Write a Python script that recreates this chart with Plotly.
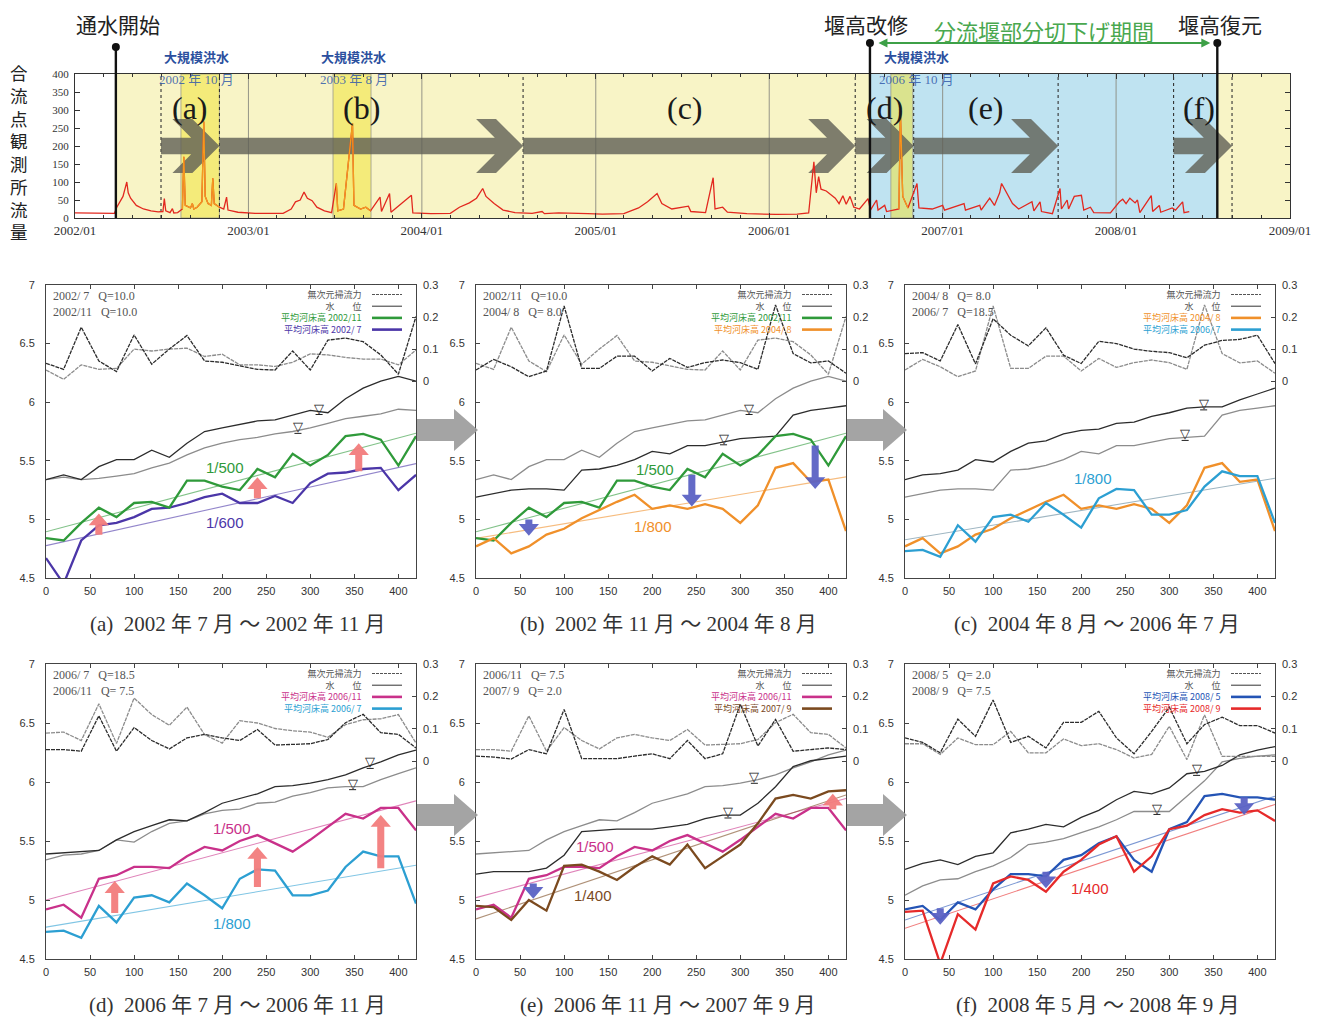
import numpy as np
import pandas as pd
import plotly.graph_objects as go

W, H = 1325, 1021
OFF = 8  # page body offset of the figure


def PX(x):
    return (x - OFF) / W


def PY(y):
    return 1 - (y - OFF) / H


# ------------------------------------------------------------------ top chart data
FLOW_DATES = [
    "2002-01-01", "2002-02-01", "2002-03-01", "2002-03-25", "2002-03-30", "2002-04-05", "2002-04-12",
    "2002-04-17", "2002-04-20", "2002-04-23", "2002-04-28", "2002-05-10", "2002-05-25", "2002-06-10",
    "2002-06-25", "2002-07-05", "2002-07-08", "2002-07-11", "2002-07-20", "2002-07-25", "2002-07-28",
    "2002-08-05", "2002-08-15", "2002-08-18", "2002-08-21", "2002-09-01", "2002-09-05", "2002-09-08",
    "2002-09-15", "2002-09-25", "2002-09-29", "2002-10-02", "2002-10-08", "2002-10-15", "2002-10-18",
    "2002-10-21", "2002-11-01", "2002-11-10", "2002-11-16", "2002-11-19", "2002-12-10",
    "2003-01-15", "2003-02-15", "2003-03-15", "2003-04-01", "2003-04-10", "2003-04-20", "2003-04-28",
    "2003-05-05", "2003-05-15", "2003-05-25", "2003-06-10", "2003-06-25", "2003-07-05", "2003-07-08",
    "2003-07-20", "2003-08-08", "2003-08-11", "2003-08-25", "2003-09-05", "2003-09-15", "2003-10-05",
    "2003-10-08", "2003-10-25", "2003-10-28", "2003-12-10", "2003-12-13",
    "2004-01-20", "2004-03-01", "2004-03-20", "2004-04-10", "2004-04-25", "2004-05-08", "2004-05-15",
    "2004-06-01", "2004-06-20", "2004-07-15", "2004-08-20", "2004-09-10", "2004-09-15", "2004-10-15",
    "2004-11-15", "2004-12-15",
    "2005-01-15", "2005-03-01", "2005-04-01", "2005-04-20", "2005-05-10", "2005-05-20", "2005-06-10",
    "2005-07-15", "2005-07-20", "2005-08-20", "2005-09-05", "2005-09-09", "2005-09-25", "2005-10-05",
    "2005-11-15",
    "2006-01-15", "2006-03-01", "2006-03-25", "2006-04-05", "2006-04-10", "2006-04-15", "2006-04-20",
    "2006-05-01", "2006-05-10", "2006-05-20", "2006-05-28", "2006-06-05", "2006-06-12", "2006-06-20",
    "2006-06-28", "2006-07-10", "2006-07-28", "2006-08-02", "2006-08-15", "2006-08-18", "2006-09-01",
    "2006-09-05", "2006-10-01", "2006-10-04", "2006-10-09", "2006-10-20", "2006-11-08", "2006-11-12",
    "2006-12-10",
    "2007-01-01", "2007-01-05", "2007-02-15", "2007-02-18", "2007-03-20", "2007-03-23", "2007-04-10",
    "2007-04-20", "2007-05-01", "2007-05-05", "2007-05-12", "2007-05-20", "2007-05-28", "2007-06-10",
    "2007-07-08", "2007-07-12", "2007-07-25", "2007-07-28", "2007-08-20", "2007-09-05", "2007-09-08",
    "2007-09-20", "2007-09-23", "2007-10-05", "2007-10-20", "2007-10-25", "2007-11-08", "2007-11-15",
    "2007-12-20",
    "2008-01-08", "2008-01-15", "2008-01-22", "2008-01-30", "2008-02-10", "2008-02-15", "2008-02-20",
    "2008-03-15", "2008-03-18", "2008-04-01", "2008-04-04", "2008-04-28", "2008-05-05", "2008-05-20",
    "2008-05-23", "2008-06-03",
]
FLOW_VALUES = [
    14, 13, 12, 13, 30, 45, 60, 85, 100, 70, 55, 35, 25, 20,
    17, 18, 54, 20, 15, 26, 14,
    15, 25, 170, 35, 28, 40, 25,
    30, 45, 268, 60, 40, 35, 110,
    40, 30, 25, 58, 22, 16,
    13, 12, 13, 25, 45, 50, 72,
    55, 48, 30, 20, 15, 96, 20,
    25, 263, 35, 25, 30, 20, 58,
    18, 68, 16, 63, 14,
    12, 13, 30, 42, 55, 82, 60,
    40, 22, 15, 13, 18, 12, 14,
    12, 12,
    11, 12, 28, 45, 68, 40, 25,
    33, 18, 15, 112, 25, 30, 16,
    12,
    10, 11, 14, 156, 70, 115, 80,
    75, 65, 55, 40, 62, 38, 60,
    30, 25, 54, 22, 50, 22, 35,
    18, 25, 300, 60, 28, 96, 28,
    25,
    35, 22, 40, 22, 35, 22, 55,
    35, 70, 96, 80, 60, 40, 25,
    45, 20, 45, 18, 12, 82, 25,
    50, 25, 60, 63, 22, 30, 15,
    14,
    45, 52, 40, 55, 42, 50, 15,
    62, 18, 35, 16, 28, 22, 45,
    15, 18,
]

AXIS_START, AXIS_END = "2002-01-01", "2009-01-01"
YEAR_LINES = ["2003-01-01", "2004-01-01", "2005-01-01", "2006-01-01", "2007-01-01", "2008-01-01"]
PERIOD_LINES = ["2002-07-01", "2002-11-01", "2004-08-01", "2006-07-01", "2006-11-01",
                "2007-09-01", "2008-05-01", "2008-09-01"]
ARROW_STARTS = ["2002-07-01", "2002-11-01", "2004-08-01", "2006-07-01", "2006-11-01", "2008-05-01"]
ARROW_ENDS = ["2002-11-01", "2004-08-01", "2006-07-01", "2006-11-01", "2007-09-01", "2008-09-01"]
PERIOD_LABELS = ["(a)", "(b)", "(c)", "(d)", "(e)", "(f)"]
PERIOD_LABEL_DATES = ["2002-08-30", "2003-08-26", "2005-07-08", "2006-08-31", "2007-04-03", "2008-06-24"]
FLOOD_STARTS = ["2002-08-12", "2003-06-28", "2006-09-14"]
FLOOD_ENDS = ["2002-11-01", "2003-09-16", "2006-10-30"]
FLOOD_LABEL_DATES = ["2002-09-14", "2003-08-11", "2006-11-06"]
FLOOD_LABELS = ["2002 年 10 月", "2003 年 8 月", "2006 年 10 月"]
EVENT_DATES = ["2002-03-28", "2006-08-01", "2008-08-01"]
EVENT_LABELS = ["通水開始", "堰高改修", "堰高復元"]
PERIOD_TEXT = "分流堰部分切下げ期間"
Y_TITLE = "合流点観測所流量"

# ------------------------------------------------------------------ profile data
DIST = [0, 20, 40, 60, 80, 100, 120, 140, 160, 180, 200, 220, 240, 260, 280, 300, 320, 340, 360, 380, 400, 420]

BED_2002_07 = [4.67, 4.45, 4.82, 4.95, 4.97, 5.02, 5.09, 5.10, 5.14, 5.19, 5.22, 5.14, 5.14, 5.20, 5.14, 5.31, 5.39, 5.40, 5.43, 5.44, 5.25, 5.38]
BED_2002_11 = [4.84, 4.82, 4.97, 5.10, 5.02, 5.14, 5.15, 5.10, 5.33, 5.33, 5.28, 5.25, 5.43, 5.36, 5.56, 5.46, 5.55, 5.71, 5.73, 5.68, 5.46, 5.71]
BED_2004_08 = [4.77, 4.84, 4.71, 4.77, 4.87, 4.92, 5.01, 5.08, 5.15, 5.21, 5.09, 5.12, 5.09, 5.13, 5.09, 4.97, 5.12, 5.44, 5.48, 5.32, 5.34, 4.90]
BED_2006_07 = [4.73, 4.74, 4.68, 4.95, 4.81, 5.02, 5.04, 4.98, 5.14, 5.04, 4.93, 5.18, 5.26, 5.25, 5.04, 5.04, 5.08, 5.28, 5.41, 5.37, 5.37, 4.97]
BED_2006_11 = [4.92, 4.96, 4.85, 5.18, 5.21, 5.28, 5.28, 5.27, 5.37, 5.45, 5.42, 5.50, 5.55, 5.48, 5.41, 5.51, 5.62, 5.73, 5.69, 5.78, 5.78, 5.59]
BED_2007_09 = [4.95, 4.94, 4.83, 5.00, 4.91, 5.29, 5.30, 5.24, 5.17, 5.28, 5.37, 5.30, 5.47, 5.27, 5.37, 5.47, 5.65, 5.86, 5.89, 5.86, 5.92, 5.93]
BED_2008_05 = [4.92, 4.95, 4.83, 4.98, 4.92, 5.09, 5.22, 5.22, 5.20, 5.34, 5.38, 5.48, 5.54, 5.34, 5.24, 5.60, 5.66, 5.88, 5.90, 5.87, 5.87, 5.85]
BED_2008_09 = [4.90, 4.91, 4.46, 4.88, 4.75, 5.14, 5.20, 5.17, 5.07, 5.24, 5.34, 5.47, 5.54, 5.24, 5.37, 5.60, 5.63, 5.72, 5.77, 5.74, 5.76, 5.67]

WL_2002_07 = [5.34, 5.36, 5.34, 5.35, 5.37, 5.39, 5.44, 5.48, 5.55, 5.61, 5.65, 5.68, 5.70, 5.73, 5.75, 5.78, 5.82, 5.86, 5.88, 5.90, 5.94, 5.93]
WL_2002_11 = [5.34, 5.38, 5.34, 5.45, 5.51, 5.51, 5.59, 5.53, 5.65, 5.75, 5.78, 5.81, 5.84, 5.85, 5.89, 5.93, 5.91, 6.03, 6.12, 6.18, 6.22, 6.18]
WL_2004_08 = [5.19, 5.22, 5.25, 5.26, 5.26, 5.25, 5.42, 5.43, 5.46, 5.51, 5.58, 5.56, 5.63, 5.63, 5.66, 5.69, 5.70, 5.71, 5.89, 5.93, 5.95, 5.97]
WL_2006_07 = [5.34, 5.38, 5.39, 5.42, 5.51, 5.49, 5.58, 5.65, 5.67, 5.73, 5.76, 5.77, 5.82, 5.83, 5.88, 5.91, 5.95, 5.96, 5.96, 6.02, 6.07, 6.12]
WL_2006_11 = [5.39, 5.40, 5.41, 5.42, 5.51, 5.58, 5.63, 5.68, 5.67, 5.74, 5.82, 5.86, 5.90, 5.96, 5.97, 5.99, 6.02, 6.06, 6.12, 6.17, 6.23, 6.27]
WL_2007_09 = [5.22, 5.24, 5.24, 5.24, 5.27, 5.38, 5.58, 5.59, 5.60, 5.60, 5.60, 5.62, 5.64, 5.69, 5.72, 5.72, 5.82, 5.96, 6.13, 6.18, 6.20, 6.22]
WL_2008_05 = [5.04, 5.12, 5.17, 5.18, 5.24, 5.29, 5.36, 5.47, 5.49, 5.52, 5.57, 5.62, 5.68, 5.75, 5.75, 5.75, 5.88, 6.01, 6.17, 6.20, 6.22, 6.23]
WL_2008_09 = [5.26, 5.31, 5.34, 5.30, 5.37, 5.40, 5.57, 5.60, 5.64, 5.62, 5.70, 5.76, 5.85, 5.92, 5.90, 5.95, 6.07, 6.09, 6.14, 6.23, 6.27, 6.30]

TF_2002_07 = [0.036, 0.007, 0.052, 0.038, 0.041, 0.101, 0.095, 0.101, 0.104, 0.078, 0.085, 0.052, 0.052, 0.047, 0.060, 0.086, 0.083, 0.075, 0.070, 0.070, 0.052, 0.098]
TF_2002_11 = [0.057, 0.038, 0.169, 0.064, 0.031, 0.145, 0.054, 0.101, 0.143, 0.064, 0.060, 0.050, 0.038, 0.036, 0.095, 0.036, 0.129, 0.135, 0.124, 0.083, 0.023, 0.202]
TF_2004_08 = [0.036, 0.069, 0.046, 0.015, 0.033, 0.235, 0.041, 0.041, 0.079, 0.079, 0.033, 0.072, 0.044, 0.059, 0.067, 0.059, 0.038, 0.238, 0.087, 0.058, 0.064, 0.026]
TF_2006_07 = [0.087, 0.090, 0.064, 0.177, 0.055, 0.195, 0.144, 0.111, 0.167, 0.082, 0.056, 0.125, 0.118, 0.101, 0.094, 0.090, 0.074, 0.113, 0.128, 0.131, 0.144, 0.056]
TF_2006_11 = [0.036, 0.036, 0.031, 0.140, 0.031, 0.104, 0.064, 0.038, 0.072, 0.083, 0.072, 0.064, 0.098, 0.050, 0.052, 0.054, 0.067, 0.119, 0.145, 0.088, 0.083, 0.041]
TF_2007_09 = [0.016, 0.013, 0.007, 0.036, 0.023, 0.160, 0.008, 0.008, 0.008, 0.016, 0.023, 0.008, 0.064, 0.008, 0.023, 0.176, 0.047, 0.129, 0.031, 0.036, 0.041, 0.036]
TF_2008_05 = [0.054, 0.054, 0.021, 0.072, 0.051, 0.051, 0.092, 0.026, 0.026, 0.069, 0.048, 0.054, 0.036, 0.010, 0.021, 0.108, 0.005, 0.143, 0.015, 0.015, 0.015, 0.015]
TF_2008_09 = [0.072, 0.058, 0.026, 0.130, 0.077, 0.189, 0.058, 0.077, 0.041, 0.120, 0.120, 0.154, 0.072, 0.023, 0.092, 0.167, 0.054, 0.113, 0.136, 0.110, 0.110, 0.087]

SURVEY_IDS = ["2002_07", "2002_11", "2004_08", "2006_07", "2006_11", "2007_09", "2008_05", "2008_09"]
SURVEY_LABELS = ["2002/ 7", "2002/11", "2004/ 8", "2006/ 7", "2006/11", "2007/ 9", "2008/ 5", "2008/ 9"]
SURVEY_Q = [10.0, 10.0, 8.0, 18.5, 7.5, 2.0, 2.0, 7.5]
SURVEY_COLORS = ["#4b36a8", "#2f9a3a", "#f0902a", "#2c9fd2", "#c9318a", "#7b4a1f", "#2454b5", "#e62a2a"]

X_TICKS = [0, 50, 100, 150, 200, 250, 300, 350, 400]
TF_TICKS = [0, 0.1, 0.2, 0.3]

# arrows inside panels: (distance, from, to)
ARROWS_A = [(60, 4.87, 5.05), (240, 5.18, 5.36), (355, 5.41, 5.65)]
ARROWS_B = [(60, 5.00, 4.86), (245, 5.38, 5.11), (385, 5.63, 5.26)]
ARROWS_D = [(78, 4.89, 5.16), (240, 5.11, 5.45), (380, 5.27, 5.72)]
ARROWS_E_DOWN = [(65, 5.14, 5.01)]
ARROWS_E_UP = [(405, 5.79, 5.90)]
ARROWS_F = [(40, 4.93, 4.79), (160, 5.24, 5.10), (385, 5.87, 5.72)]

CAPTIONS = ["(a)  2002 年 7 月 ～ 2002 年 11 月", "(b)  2002 年 11 月 ～ 2004 年 8 月",
            "(c)  2004 年 8 月 ～ 2006 年 7 月", "(d)  2006 年 7 月 ～ 2006 年 11 月",
            "(e)  2006 年 11 月 ～ 2007 年 9 月", "(f)  2008 年 5 月 ～ 2008 年 9 月"]

BED = dict(zip(SURVEY_IDS, [BED_2002_07, BED_2002_11, BED_2004_08, BED_2006_07, BED_2006_11, BED_2007_09, BED_2008_05, BED_2008_09]))
WL = dict(zip(SURVEY_IDS, [WL_2002_07, WL_2002_11, WL_2004_08, WL_2006_07, WL_2006_11, WL_2007_09, WL_2008_05, WL_2008_09]))
TF = dict(zip(SURVEY_IDS, [TF_2002_07, TF_2002_11, TF_2004_08, TF_2006_07, TF_2006_11, TF_2007_09, TF_2008_05, TF_2008_09]))
LAB = dict(zip(SURVEY_IDS, SURVEY_LABELS))
QV = dict(zip(SURVEY_IDS, SURVEY_Q))
COL = dict(zip(SURVEY_IDS, SURVEY_COLORS))

PINK = "#f27c7c"
BLUE_ARROW = "#5b62c4"

PANEL_SPECS = [
    dict(pair=("2002_07", "2002_11"), legend=("2002_11", "2002_07"),
         trends=[("2002_11", 4.895, 500, None), ("2002_07", 4.776, 600, None)],
         tlabels=[("1/500", 203, 5.44, "2002_11"), ("1/600", 203, 4.975, "2002_07")],
         arrows=[(ARROWS_A, PINK)], nabla=[("2002_11", 310), ("2002_07", 286)]),
    dict(pair=("2002_11", "2004_08"), legend=("2002_11", "2004_08"),
         trends=[("2002_11", 4.895, 500, None), ("2004_08", 4.838, 800, None)],
         tlabels=[("1/500", 203, 5.43, "2002_11"), ("1/800", 201, 4.94, "2004_08")],
         arrows=[(ARROWS_B, BLUE_ARROW)], nabla=[("2002_11", 310), ("2004_08", 281)]),
    dict(pair=("2004_08", "2006_07"), legend=("2004_08", "2006_07"),
         trends=[("2006_07", 4.826, 800, "#9fb6c2")],
         tlabels=[("1/800", 213, 5.345, "2006_07")],
         arrows=[], nabla=[("2006_07", 339), ("2004_08", 318)]),
    dict(pair=("2006_07", "2006_11"), legend=("2006_11", "2006_07"),
         trends=[("2006_11", 5.00, 500, None), ("2006_07", 4.77, 800, None)],
         tlabels=[("1/500", 211, 5.61, "2006_11"), ("1/800", 211, 4.80, "2006_07")],
         arrows=[(ARROWS_D, PINK)], nabla=[("2006_11", 368), ("2006_07", 348)]),
    dict(pair=("2006_11", "2007_09"), legend=("2006_11", "2007_09"),
         trends=[("2006_11", 5.02, 500, None), ("2007_09", 4.84, 400, None)],
         tlabels=[("1/500", 135, 5.45, "2006_11"), ("1/400", 133, 5.04, "2007_09")],
         arrows=[(ARROWS_E_DOWN, BLUE_ARROW), (ARROWS_E_UP, PINK)], nabla=[("2006_11", 316), ("2007_09", 286)]),
    dict(pair=("2008_05", "2008_09"), legend=("2008_05", "2008_09"),
         trends=[("2008_05", 4.83, 400, None), ("2008_09", 4.76, 400, None)],
         tlabels=[("1/400", 210, 5.10, "2008_09")],
         arrows=[(ARROWS_F, BLUE_ARROW)], nabla=[("2008_09", 331), ("2008_05", 286)]),
]

PANEL_X = [(46, 416), (476, 846), (905, 1275)]
PANEL_Y = [(285, 578), (664, 959)]
CAPTION_X = [238, 668, 1097]
CAPTION_Y = [624, 1005]

TOP_X = (75, 1290)
TOP_Y = (74, 218)

SERIF = "Liberation Serif"
JP = "Noto Sans CJK JP"
SANS = "Liberation Sans"


def rgba(hexc, a):
    h = hexc.lstrip("#")
    return "rgba(%d,%d,%d,%.2f)" % (int(h[0:2], 16), int(h[2:4], 16), int(h[4:6], 16), a)


def ann(**kw):
    kw.setdefault("xanchor", "center")
    kw.setdefault("yanchor", "middle")
    kw.setdefault("showarrow", False)
    kw.setdefault("borderpad", 0)
    return kw


fig = go.Figure()
shapes = []
annotations = []

T0, T1 = pd.Timestamp(AXIS_START), pd.Timestamp(AXIS_END)
PX_PER_DAY = (TOP_X[1] - TOP_X[0]) / (T1 - T0).days

# ---------------- top chart background
shapes.append(dict(type="rect", xref="x", yref="y", x0=EVENT_DATES[0], x1=EVENT_DATES[1], y0=0, y1=400,
                   fillcolor="#f8f4c6", line=dict(width=0), layer="below"))
shapes.append(dict(type="rect", xref="x", yref="y", x0=EVENT_DATES[1], x1=EVENT_DATES[2], y0=0, y1=400,
                   fillcolor="#bfe3f1", line=dict(width=0), layer="below"))
shapes.append(dict(type="rect", xref="x", yref="y", x0=EVENT_DATES[2], x1=AXIS_END, y0=0, y1=400,
                   fillcolor="#f8f4c6", line=dict(width=0), layer="below"))
for s, e in zip(FLOOD_STARTS, FLOOD_ENDS):
    shapes.append(dict(type="rect", xref="x", yref="y", x0=s, x1=e, y0=0, y1=400,
                       fillcolor="rgba(240,228,60,0.55)", line=dict(width=0.8, color="#9a9a8a"), layer="below"))
for d in YEAR_LINES:
    shapes.append(dict(type="line", xref="x", yref="y", x0=d, x1=d, y0=0, y1=400,
                       line=dict(width=0.9, color="#8a8a80"), layer="below"))
for d in PERIOD_LINES:
    shapes.append(dict(type="line", xref="x", yref="y", x0=d, x1=d, y0=0, y1=400,
                       line=dict(width=1.1, color="#333", dash="dot"), layer="below"))

# ---------------- gray chevron arrows (periods)
for s, e in zip(ARROW_STARTS, ARROW_ENDS):
    s = pd.Timestamp(s)
    e = pd.Timestamp(e)
    hd = pd.Timedelta(days=99)
    wd = pd.Timedelta(days=42)
    xi = e - hd + (hd - wd) * ((275 - 223) / 75)
    xs = [s, xi, e - hd, e - hd + wd, e, e - hd + wd, e - hd, xi, s, s]
    ys = [223, 223, 275, 275, 200, 125, 125, 177, 177, 223]
    fig.add_trace(go.Scatter(x=xs, y=ys, mode="lines", fill="toself", fillcolor="rgba(95,95,85,0.80)",
                             line=dict(width=0), hoverinfo="skip", xaxis="x", yaxis="y"))

# ---------------- flow series
fig.add_trace(go.Scatter(x=FLOW_DATES, y=FLOW_VALUES, mode="lines", line=dict(color="#e2281f", width=1.3),
                         hoverinfo="skip", xaxis="x", yaxis="y"))
fd = pd.to_datetime(FLOW_DATES)
for s, e in zip(FLOOD_STARTS, FLOOD_ENDS):
    mask = (fd >= pd.Timestamp(s)) & (fd <= pd.Timestamp(e))
    fig.add_trace(go.Scatter(x=[FLOW_DATES[i] for i in range(len(FLOW_DATES)) if mask[i]],
                             y=[FLOW_VALUES[i] for i in range(len(FLOW_VALUES)) if mask[i]],
                             mode="lines", line=dict(color="#f39a1e", width=1.3), hoverinfo="skip",
                             xaxis="x", yaxis="y"))

# ---------------- event lines and labels
event_top = [47, 43, 43]
event_shift = [2, -4, 3]
for d, lab, yt, sh in zip(EVENT_DATES, EVENT_LABELS, event_top, event_shift):
    shapes.append(dict(type="line", xref="x", yref="paper", x0=d, x1=d, y0=PY(TOP_Y[1]), y1=PY(yt),
                       line=dict(width=2.4, color="#111")))
    shapes.append(dict(type="circle", xref="x", yref="paper", xsizemode="pixel", ysizemode="pixel",
                       xanchor=d, yanchor=PY(yt), x0=-4, x1=4, y0=-4, y1=4,
                       fillcolor="#111", line=dict(width=0)))
    annotations.append(ann(x=d, y=PY(24), xref="x", yref="paper", text=lab,
                           xshift=sh, font=dict(family=JP, size=21, color="#222")))

span_px = (pd.Timestamp(EVENT_DATES[2]) - pd.Timestamp(EVENT_DATES[1])).days * PX_PER_DAY
annotations.append(dict(x=EVENT_DATES[2], y=PY(43), xref="x", yref="paper", text="", showarrow=True,
                        ax=-span_px, ay=0, axref="pixel", ayref="pixel", arrowside="end+start",
                        arrowhead=2, arrowsize=1, arrowwidth=1.8, arrowcolor="#3da047",
                        standoff=7, startstandoff=7))
mid = pd.Timestamp(EVENT_DATES[1]) + (pd.Timestamp(EVENT_DATES[2]) - pd.Timestamp(EVENT_DATES[1])) / 2
annotations.append(ann(x=mid, y=PY(30), xref="x", yref="paper", text=PERIOD_TEXT,
                       font=dict(family=JP, size=22, color="#4aa84f")))

for d, lab in zip(FLOOD_LABEL_DATES, FLOOD_LABELS):
    annotations.append(ann(x=d, y=PY(57), xref="x", yref="paper", text="<b>大規模洪水</b>",
                           font=dict(family=JP, size=13, color="#2b4f9e")))
    annotations.append(ann(x=d, y=PY(80), xref="x", yref="paper", text=lab,
                           font=dict(family=SERIF + ", " + JP, size=13, color="rgba(50,90,170,0.85)")))

for d, lab in zip(PERIOD_LABEL_DATES, PERIOD_LABELS):
    annotations.append(ann(x=d, y=PY(108), xref="x", yref="paper", text=lab,
                           font=dict(family=SERIF, size=32, color="#1a1a1a")))

# vertical (stacked) y-axis title of the top chart, one glyph per line
annotations.append(ann(x=PX(19), y=PY(72 + 3.5 * 22.75), xref="paper", yref="paper",
                       text="<br>".join(list(Y_TITLE)),
                       font=dict(family=JP, size=17.5, color="#222")))

layout = dict(
    width=W, height=H, margin=dict(l=0, r=0, t=0, b=0, autoexpand=False),
    paper_bgcolor="white", plot_bgcolor="white",
    showlegend=False, font=dict(family=SANS, size=11, color="#333"),
    xaxis=dict(domain=[PX(TOP_X[0]), PX(TOP_X[1])], anchor="y", type="date", range=[AXIS_START, AXIS_END],
               tickformat="%Y/%m", dtick="M12", tick0=AXIS_START, ticks="inside", ticklen=5,
               tickcolor="#333", showline=True, linecolor="#333", linewidth=1, mirror="ticks",
               showgrid=False, zeroline=False, tickfont=dict(family=SERIF, size=13, color="#333"),
               minor=dict(ticks="inside", ticklen=3, dtick="M2", tickcolor="#333")),
    yaxis=dict(domain=[PY(TOP_Y[1]), PY(TOP_Y[0])], anchor="x", range=[0, 400], dtick=50,
               ticks="inside", ticklen=5, tickcolor="#333", showline=True, linecolor="#333", linewidth=1,
               mirror="ticks", showgrid=False, zeroline=False, ticklabelstandoff=3,
               tickfont=dict(family=SERIF, size=11, color="#333")),
)

# ---------------- panels
LEG_STEP = 11.7  # line spacing of a 9px annotation (1.3 em)
Q_STEP = 15.6    # line spacing of a 12px annotation
for k, spec in enumerate(PANEL_SPECS):
    r, c = divmod(k, 3)
    x0p, x1p = PANEL_X[c]
    y0p, y1p = PANEL_Y[r]
    n, m = k + 2, k + 8
    xa, ya, yr = "x%d" % n, "y%d" % n, "y%d" % m
    layout["xaxis%d" % n] = dict(domain=[PX(x0p), PX(x1p)], anchor=ya, range=[0, 420], tickvals=X_TICKS,
                                 ticks="inside", ticklen=4, tickcolor="#444", showline=True, linecolor="#444",
                                 linewidth=1, mirror="ticks", showgrid=False, zeroline=False,
                                 ticklabelstandoff=3,
                                 tickfont=dict(family=SANS, size=11, color="#333"))
    layout["yaxis%d" % n] = dict(domain=[PY(y1p), PY(y0p)], anchor=xa, range=[4.5, 7], dtick=0.5,
                                 ticks="inside", ticklen=4, tickcolor="#444", showline=True, linecolor="#444",
                                 linewidth=1, mirror=True, showgrid=False, zeroline=False,
                                 ticklabelstandoff=8,
                                 tickfont=dict(family=SANS, size=11, color="#333"))
    layout["yaxis%d" % m] = dict(overlaying=ya, anchor=xa, side="right", range=[-0.61, 0.3],
                                 tickvals=TF_TICKS, ticktext=["0", "0.1", "0.2", "0.3"], ticks="inside",
                                 ticklen=4, tickcolor="#444", showline=False, showgrid=False, zeroline=False,
                                 ticklabelstandoff=6,
                                 tickfont=dict(family=SANS, size=11, color="#333"))

    early, late = spec["pair"]
    shade = {early: "#8c8c8c", late: "#2c2c2c"}
    for sid in (early, late):
        fig.add_trace(go.Scatter(x=DIST, y=TF[sid], mode="lines", xaxis=xa, yaxis=yr, hoverinfo="skip",
                                 line=dict(color=shade[sid], width=1.3, dash="4px,1px")))
    for sid in (early, late):
        fig.add_trace(go.Scatter(x=DIST, y=WL[sid], mode="lines", xaxis=xa, yaxis=ya, hoverinfo="skip",
                                 line=dict(color=shade[sid], width=1.3)))
    for sid, start, denom, tcol in spec["trends"]:
        tx = [DIST[0], DIST[-1]]
        ty = [start + v / denom for v in tx]
        fig.add_trace(go.Scatter(x=tx, y=ty, mode="lines", xaxis=xa, yaxis=ya, hoverinfo="skip",
                                 line=dict(color=tcol or rgba(COL[sid], 0.6), width=1.1)))
    for sid in (early, late):
        fig.add_trace(go.Scatter(x=DIST, y=BED[sid], mode="lines", xaxis=xa, yaxis=ya, hoverinfo="skip",
                                 line=dict(color=COL[sid], width=2.3)))

    for txt, tx, ty, sid in spec["tlabels"]:
        annotations.append(ann(x=tx, y=ty, xref=xa, yref=ya, text=txt,
                               font=dict(family=SANS, size=15, color=COL[sid])))

    for sid, xd in spec["nabla"]:
        yv = float(np.interp(xd, DIST, WL[sid]))
        annotations.append(ann(x=xd, y=yv, xref=xa, yref=ya, text="▽", yanchor="bottom",
                               yshift=-5, font=dict(family="DejaVu Sans", size=13, color="#222")))
        shapes.append(dict(type="line", xref=xa, yref=ya, x0=xd - 4, x1=xd + 4, y0=yv - 0.025, y1=yv - 0.025,
                           line=dict(color="#222", width=1)))

    for arr_list, acol in spec["arrows"]:
        for xd, yf, yt in arr_list:
            dr = 1 if yt > yf else -1
            hl = 0.10
            base = yt - dr * hl
            if dr * (base - yf) < 0.03:
                yf = base - dr * 0.03
            path = ("M{a},{yf} L{a},{b} L{c},{b} L{x},{yt} L{d},{b} L{e},{b} L{e},{yf} Z"
                    .format(a=xd - 4, b=base, c=xd - 11.5, x=xd, d=xd + 11.5, e=xd + 4, yf=yf, yt=yt))
            shapes.append(dict(type="path", xref=xa, yref=ya, path=path, fillcolor=acol,
                               line=dict(width=0), opacity=0.95))

    # Q text (top-left), two lines in one text block
    qlines = []
    for sid in (early, late):
        qs = ("%4.1f" % QV[sid]).replace(" ", "\u00a0")
        qlines.append(LAB[sid].replace(" ", "\u00a0") + "\u00a0\u00a0\u00a0Q=" + qs)
    annotations.append(ann(x=PX(x0p + 6), y=PY(y0p + 11 + 0.5 * Q_STEP), xref="paper", yref="paper",
                           text="<br>".join(qlines), xanchor="left", align="left",
                           font=dict(family=SERIF, size=12, color="#555")))

    # legend (top-right): one text block + line samples
    rows = [("無次元掃流力", "#555", "#555", 1, "3px,1px"), ("水\u3000\u3000位", "#555", "#333", 1, "solid")]
    for sid in spec["legend"]:
        rows.append(("平均河床高 " + LAB[sid].replace(" ", "\u00a0"), COL[sid], COL[sid], 2.6, "solid"))
    leg_text = "<br>".join("<span style='color:%s'>%s</span>" % (tc, t) for t, tc, _, _, _ in rows)
    y_first = y0p + 9.5
    annotations.append(ann(x=PX(x1p - 53), y=PY(y_first + 1.5 * LEG_STEP), xref="paper", yref="paper",
                           text=leg_text, xanchor="right", align="right",
                           font=dict(family=JP, size=9, color="#555")))
    for i, (txt, tcol, lcol, lw, dash) in enumerate(rows):
        yy = y_first + i * LEG_STEP
        shapes.append(dict(type="line", xref="paper", yref="paper", x0=PX(x1p - 44), x1=PX(x1p - 14),
                           y0=PY(yy), y1=PY(yy), line=dict(color=lcol, width=lw, dash=dash)))

    annotations.append(ann(x=PX(CAPTION_X[c]), y=PY(CAPTION_Y[r]), xref="paper", yref="paper",
                           text=CAPTIONS[k], font=dict(family=SERIF + ", " + JP, size=21, color="#333")))

# ---------------- gray arrows between panels
for yc in (430, 815):
    for xa0, xa1 in ((417, 478), (847, 907)):
        path = ("M{a},{b1} L{c},{b1} L{c},{h1} L{t},{m} L{c},{h2} L{c},{b2} L{a},{b2} Z"
                .format(a=PX(xa0), c=PX(xa1 - 24), t=PX(xa1), b1=PY(yc - 11), b2=PY(yc + 11),
                        h1=PY(yc - 21), h2=PY(yc + 21), m=PY(yc)))
        shapes.append(dict(type="path", xref="paper", yref="paper", path=path, fillcolor="#9a9a9a",
                           line=dict(width=0), opacity=0.9))

layout["shapes"] = shapes
layout["annotations"] = annotations
fig.update_layout(**layout)
fig.write_html("out.html")
